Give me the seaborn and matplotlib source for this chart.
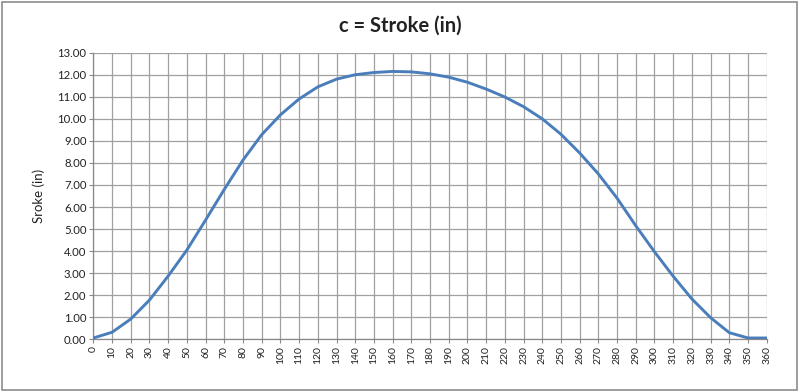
import matplotlib
matplotlib.use("Agg")
import matplotlib.pyplot as plt
import pandas as pd
import seaborn as sns
from matplotlib.patches import Rectangle

# crank angle (deg) and stroke (in)
angle = [0, 10, 20, 30, 40, 50, 60, 70, 80, 90, 100, 110, 120, 130, 140, 150,
         160, 170, 180, 190, 200, 210, 220, 230, 240, 250, 260, 270, 280, 290,
         300, 310, 320, 330, 340, 350, 360]
stroke = [0.06, 0.32, 0.92, 1.78, 2.87, 4.05, 5.41, 6.80, 8.13, 9.28, 10.18,
          10.90, 11.45, 11.80, 12.00, 12.10, 12.15, 12.13, 12.04, 11.89, 11.66,
          11.35, 10.99, 10.55, 10.00, 9.30, 8.45, 7.50, 6.40, 5.15, 3.97, 2.86,
          1.83, 0.98, 0.30, 0.06, 0.06]

title = "c = Stroke (in)"
ylabel = "Sroke (in)"
xticks = list(range(0, 361, 10))
yticks = list(range(0, 14))

df = pd.DataFrame({"angle": angle, "stroke": stroke})

sns.set_style("white")
plt.rcParams["font.family"] = ["Lato", "DejaVu Sans"]

fig = plt.figure(figsize=(8, 3.92), dpi=100)
ax = fig.add_axes([0.1167, 0.1344, 0.8417, 0.7312])

sns.lineplot(data=df, x="angle", y="stroke", ax=ax, color="#4a7ebb",
             linewidth=2.1, zorder=3)

ax.set_xlim(0, 360)
ax.set_ylim(0, 13)
ax.set_xticks(xticks)
ax.set_xticklabels([str(v) for v in xticks], rotation=90, fontsize=7.5)
ax.set_yticks(yticks)
ax.set_yticklabels([f"{v:.2f}" for v in yticks], fontsize=8.2)
ax.grid(True, color="#a0a0a0", linewidth=0.9)
ax.tick_params(axis="both", length=3, width=0.8, color="#888888", pad=2,
               bottom=True, left=True, labelcolor="#222222")
for side in ["top", "right"]:
    ax.spines[side].set_visible(False)
for side in ["left", "bottom"]:
    ax.spines[side].set_color("#888888")
    ax.spines[side].set_linewidth(0.9)

ax.set_xlabel("")
ax.set_ylabel(ylabel, fontsize=9.5, labelpad=9, color="#222222")
fig.text(0.5, 0.935, title, ha="center", va="center", fontsize=14.5,
         fontweight="bold", color="#222222")

fig.patches.append(Rectangle((0.002, 0.006), 0.994, 0.99, transform=fig.transFigure,
                             fill=False, edgecolor="#8c8c8c", linewidth=1.2))

fig.savefig("out.png", dpi=100)
